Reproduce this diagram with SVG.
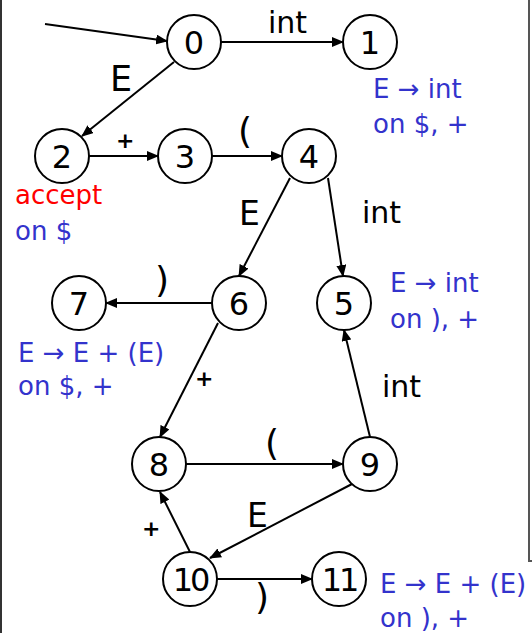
<svg xmlns="http://www.w3.org/2000/svg" width="532" height="633" viewBox="0 0 532 633">
<defs>
<marker id="ah" markerWidth="12" markerHeight="10" refX="11" refY="5" orient="auto" markerUnits="userSpaceOnUse">
<path d="M0,0 L12,5 L0,10 z" fill="#000"/>
</marker>
</defs>
<style>
.node circle{fill:#fff;stroke:#000;stroke-width:2}
.node text{font-family:"DejaVu Sans",sans-serif;font-size:32px;fill:#000;text-anchor:middle}
.edges line{stroke:#000;stroke-width:2;marker-end:url(#ah)}
.lbl{font-family:"DejaVu Sans",sans-serif;font-size:30px;fill:#000}
.par{font-family:"DejaVu Sans",sans-serif;font-size:36px;fill:#000}
.plus{font-family:"DejaVu Sans",sans-serif;font-size:22px;font-weight:bold;fill:#000}
.blue{font-family:"DejaVu Sans",sans-serif;font-size:26px;fill:#3333cc}
.red{font-family:"DejaVu Sans",sans-serif;font-size:26px;fill:#ff0000}
</style>
<rect width="532" height="633" fill="#fff"/>
<line x1="1" y1="0" x2="1" y2="633" stroke="#333" stroke-width="2"/>
<polyline points="529,0 529,561 532,561" fill="none" stroke="#555" stroke-width="2"/>
<g class="edges">
<line x1="45" y1="24" x2="167" y2="41"/>
<line x1="221" y1="42" x2="343" y2="42"/>
<line x1="174" y1="62" x2="82" y2="136"/>
<line x1="89" y1="156" x2="158" y2="156"/>
<line x1="212" y1="156" x2="282" y2="156"/>
<line x1="290" y1="178" x2="239" y2="276"/>
<line x1="328" y1="178" x2="343" y2="276"/>
<line x1="212" y1="303" x2="106" y2="303"/>
<line x1="218" y1="323" x2="160" y2="437"/>
<line x1="370" y1="437" x2="344" y2="330"/>
<line x1="186" y1="464" x2="343" y2="464"/>
<line x1="352" y1="484" x2="210" y2="558"/>
<line x1="190" y1="552" x2="160" y2="492"/>
<line x1="217" y1="579" x2="312" y2="579"/>
</g>
<g id="n0" class="node"><circle cx="194" cy="42" r="27"/><text x="194" y="54">0</text></g>
<g id="n1" class="node"><circle cx="370" cy="42" r="27"/><text x="370" y="54">1</text></g>
<g id="n2" class="node"><circle cx="62" cy="156" r="27"/><text x="62" y="168">2</text></g>
<g id="n3" class="node"><circle cx="185" cy="156" r="27"/><text x="185" y="168">3</text></g>
<g id="n4" class="node"><circle cx="309" cy="156" r="27"/><text x="309" y="168">4</text></g>
<g id="n5" class="node"><circle cx="344" cy="303" r="27"/><text x="344" y="315">5</text></g>
<g id="n6" class="node"><circle cx="239" cy="303" r="27"/><text x="239" y="315">6</text></g>
<g id="n7" class="node"><circle cx="79" cy="303" r="27"/><text x="79" y="315">7</text></g>
<g id="n8" class="node"><circle cx="159" cy="464" r="27"/><text x="159" y="476">8</text></g>
<g id="n9" class="node"><circle cx="370" cy="464" r="27"/><text x="370" y="476">9</text></g>
<g id="n10" class="node"><circle cx="190" cy="579" r="27"/><text x="190" y="591" style="letter-spacing:-3px">10</text></g>
<g id="n11" class="node"><circle cx="339" cy="579" r="27"/><text x="339" y="591" style="letter-spacing:-3px">11</text></g>
<g id="labels">
<text class="lbl" x="268" y="33">int</text>
<text class="lbl" x="110" y="91" style="font-size:35px">E</text>
<text class="plus" x="116" y="148">+</text>
<text class="par" x="238" y="143">(</text>
<text class="lbl" x="239" y="225" style="font-size:33px">E</text>
<text class="lbl" x="362" y="223">int</text>
<text class="par" x="155" y="292">)</text>
<text class="plus" x="195" y="386">+</text>
<text class="lbl" x="382" y="397">int</text>
<text class="par" x="265" y="455">(</text>
<text class="lbl" x="247" y="527" style="font-size:33px">E</text>
<text class="plus" x="142" y="536">+</text>
<text class="par" x="255" y="609">)</text>
</g>
<g id="notes">
<text class="blue" x="373" y="98">E → int</text>
<text class="blue" x="373" y="133">on $, +</text>
<text class="red" x="15" y="204">accept</text>
<text class="blue" x="15" y="240">on $</text>
<text class="blue" x="390" y="292">E → int</text>
<text class="blue" x="390" y="328">on ), +</text>
<text class="blue" x="18" y="362">E → E + (E)</text>
<text class="blue" x="18" y="395">on $, +</text>
<text class="blue" x="380" y="593">E → E + (E)</text>
<text class="blue" x="380" y="627">on ), +</text>
</g>
</svg>
